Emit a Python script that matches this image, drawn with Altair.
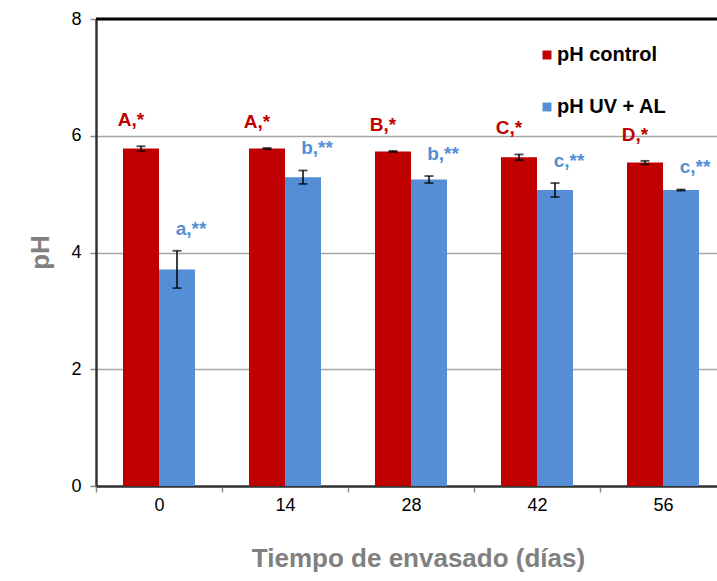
import altair as alt
import pandas as pd

# Tiempo de envasado (días)
dias = ["0", "14", "28", "42", "56"]

# pH medio y desviación de cada tratamiento
ph_control = [5.78, 5.78, 5.73, 5.63, 5.54]
ph_control_err = [0.04, 0.01, 0.01, 0.05, 0.03]
ph_uv = [3.71, 5.29, 5.25, 5.07, 5.07]
ph_uv_err = [0.32, 0.115, 0.06, 0.12, 0.01]

# Letras de significancia
letras_control = ["A,*", "A,*", "B,*", "C,*", "D,*"]
letras_uv = ["a,**", "b,**", "b,**", "c,**", "c,**"]

series = ["pH control", "pH UV + AL"]
colores = ["#C00000", "#558ED5"]
FONT = "Liberation Sans"

rows = []
for i, d in enumerate(dias):
    rows.append({"dia": d, "serie": series[0], "ph": ph_control[i],
                 "err": ph_control_err[i], "letra": letras_control[i]})
    rows.append({"dia": d, "serie": series[1], "ph": ph_uv[i],
                 "err": ph_uv_err[i], "letra": letras_uv[i]})
df = pd.DataFrame(rows)

base = alt.Chart(df).transform_calculate(
    lo="datum.ph - datum.err", hi="datum.ph + datum.err"
)

x_enc = alt.X(
    "dia:N",
    sort=dias,
    scale=alt.Scale(range=[0, 630], paddingInner=0, paddingOuter=0),
    axis=alt.Axis(
        title="Tiempo de envasado (días)",
        labelAngle=0,
        labelFont=FONT,
        labelFontSize=18,
        labelColor="#000000",
        labelPadding=4,
        tickBand="extent",
        tickSize=6,
        tickColor="#8c8c8c",
        tickWidth=1.5,
        domainColor="#333333",
        domainWidth=2.5,
        titleFont=FONT,
        titleFontSize=26,
        titleFontWeight="bold",
        titleColor="#808080",
        titleX=322,
        titleY=72,
        titleBaseline="middle",
    ),
)
xo_enc = alt.XOffset(
    "serie:N", sort=series,
    scale=alt.Scale(paddingInner=0, paddingOuter=0.75),
)

y_scale = alt.Scale(domain=[0, 8], nice=False)

bars = base.mark_bar().encode(
    x=x_enc,
    xOffset=xo_enc,
    y=alt.Y(
        "ph:Q",
        scale=y_scale,
        axis=alt.Axis(
            title="pH",
            values=[0, 2, 4, 6, 8],
            format="d",
            grid=True,
            gridColor="#a6a6a6",
            gridWidth=1.5,
            labelFont=FONT,
            labelFontSize=18,
            labelColor="#000000",
            labelPadding=9,
            tickSize=6,
            tickColor="#8c8c8c",
            tickWidth=1.5,
            domainColor="#333333",
            domainWidth=2.5,
            titleFont=FONT,
            titleFontSize=26,
            titleFontWeight="bold",
            titleColor="#808080",
            titleX=-56,
            titleY=233,
            titleAlign="center",
            titleBaseline="middle",
        ),
    ),
    color=alt.Color(
        "serie:N",
        sort=series,
        scale=alt.Scale(domain=series, range=colores),
        legend=alt.Legend(
            title=None,
            orient="none",
            legendX=441,
            legendY=26,
            symbolType="square",
            symbolSize=80,
            symbolStrokeWidth=0,
            labelFont=FONT,
            labelFontSize=20,
            labelFontWeight="bold",
            labelColor="#000000",
            labelOffset=0,
            rowPadding=32,
        ),
    ),
)

err_rule = base.mark_rule(color="#000000", strokeWidth=1.5).encode(
    x=alt.X("dia:N", sort=dias),
    xOffset=xo_enc,
    y=alt.Y("lo:Q", scale=y_scale),
    y2="hi:Q",
)
cap_lo = base.mark_tick(color="#000000", thickness=1.8, size=9,
                        orient="horizontal").encode(
    x=alt.X("dia:N", sort=dias), xOffset=xo_enc,
    y=alt.Y("lo:Q", scale=y_scale),
)
cap_hi = base.mark_tick(color="#000000", thickness=1.8, size=9,
                        orient="horizontal").encode(
    x=alt.X("dia:N", sort=dias), xOffset=xo_enc,
    y=alt.Y("hi:Q", scale=y_scale),
)

lab_control = base.transform_filter(
    alt.datum.serie == series[0]
).mark_text(font=FONT, fontSize=19, fontWeight="bold", color=colores[0],
            dx=-10, dy=-26, baseline="middle").encode(
    x=alt.X("dia:N", sort=dias), xOffset=xo_enc,
    y=alt.Y("hi:Q", scale=y_scale), text="letra:N",
)
lab_uv = base.transform_filter(
    alt.datum.serie == series[1]
).mark_text(font=FONT, fontSize=19, fontWeight="bold", color=colores[1],
            dx=14, dy=-22, baseline="middle").encode(
    x=alt.X("dia:N", sort=dias), xOffset=xo_enc,
    y=alt.Y("hi:Q", scale=y_scale), text="letra:N",
)

# Borde superior del área de trazado
top = alt.Chart(pd.DataFrame({"v": [8]})).mark_rule(
    color="#000000", strokeWidth=3
).encode(y=alt.Y("v:Q", scale=y_scale), x=alt.value(0), x2=alt.value(621))

chart = alt.layer(bars, err_rule, cap_lo, cap_hi, lab_control, lab_uv, top).properties(
    width=621,
    height=467,
    autosize=alt.AutoSizeParams(type="none"),
    padding={"left": 96, "top": 19, "right": 0, "bottom": 95},
    background="#ffffff",
).configure_view(stroke=None)

chart.save("out.html", embed_options={"renderer": "svg", "actions": False})
